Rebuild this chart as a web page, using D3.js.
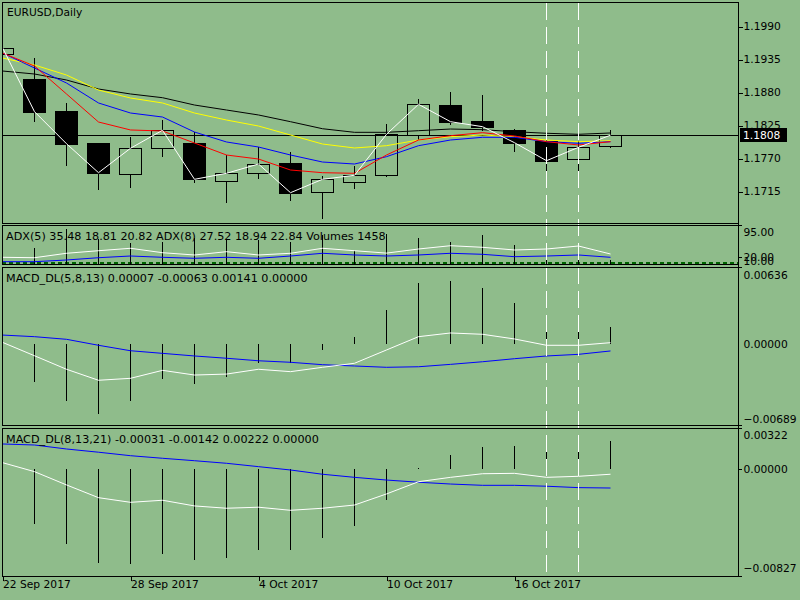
<!DOCTYPE html>
<html><head><meta charset="utf-8">
<script src="https://cdn.jsdelivr.net/npm/d3@7/dist/d3.min.js"></script>
<style>
html,body{margin:0;padding:0;background:#8FBC8B;}
svg{display:block;}
text{font-family:"DejaVu Sans",sans-serif;font-size:10.7px;fill:#000;}
text.ind{font-size:11.2px;}
</style></head>
<body>
<svg id="c" width="800" height="600"></svg>
<script>
// ---------- data ----------
const symbolTitle = "EURUSD,Daily";
const dates = ["22 Sep 2017","25 Sep 2017","26 Sep 2017","27 Sep 2017","28 Sep 2017","29 Sep 2017","2 Oct 2017","3 Oct 2017","4 Oct 2017","5 Oct 2017","6 Oct 2017","9 Oct 2017","10 Oct 2017","11 Oct 2017","12 Oct 2017","13 Oct 2017","16 Oct 2017","17 Oct 2017","18 Oct 2017","19 Oct 2017"];
const dateTicks = ["22 Sep 2017","28 Sep 2017","4 Oct 2017","10 Oct 2017","16 Oct 2017"];
const openP  = [1.19428,1.19017,1.18483,1.17945,1.17438,1.17862,1.17945,1.17322,1.17445,1.17617,1.17128,1.17295,1.17412,1.18083,1.18578,1.18317,1.18162,1.17988,1.17678,1.17895];
const highP  = [1.19550,1.19362,1.18612,1.17950,1.18050,1.18333,1.18138,1.17745,1.17883,1.17795,1.17400,1.17572,1.18262,1.18683,1.18800,1.18745,1.18183,1.18000,1.17983,1.18167];
const lowP   = [1.19420,1.18305,1.17572,1.17167,1.17205,1.17722,1.17288,1.16955,1.17355,1.16988,1.16688,1.17188,1.17388,1.18000,1.18255,1.18150,1.17805,1.17362,1.17288,1.17872];
const closeP = [1.19538,1.18472,1.17938,1.17455,1.17862,1.18162,1.17345,1.17445,1.17600,1.17122,1.17345,1.17412,1.18095,1.18595,1.18305,1.18222,1.17955,1.17655,1.17878,1.18080];
const maRed    = [1.19450,1.19233,1.18767,1.18300,1.18167,1.18150,1.17950,1.17750,1.17683,1.17500,1.17455,1.17445,1.17750,1.18000,1.18072,1.18122,1.18067,1.17972,1.17917,1.17972];
const maBlue   = [1.19450,1.19200,1.18950,1.18617,1.18450,1.18383,1.18133,1.17967,1.17883,1.17750,1.17633,1.17600,1.17722,1.17905,1.18000,1.18045,1.18045,1.17972,1.17945,1.17972];
const maYellow = [1.19367,1.19250,1.19083,1.18833,1.18700,1.18617,1.18450,1.18333,1.18233,1.18083,1.17933,1.17867,1.17905,1.18000,1.18055,1.18083,1.18055,1.18000,1.17972,1.17988];
const maBlack  = [1.19150,1.19100,1.19000,1.18850,1.18767,1.18705,1.18583,1.18500,1.18417,1.18305,1.18188,1.18128,1.18128,1.18155,1.18183,1.18172,1.18138,1.18112,1.18095,1.18117];
const priceTicks = [1.1990,1.1935,1.1880,1.1825,1.1770,1.1715];
const lastPrice = 1.1808;

const adxLabel = "ADX(5) 35.48 18.81 20.82 ADX(8) 27.52 18.94 22.84 Volumes 1458";
const adxWhite = [19.7,18.5,31.5,39.1,46.2,33.2,26.5,36.2,26.5,31.5,46.2,39.1,32.0,44.1,53.8,49.1,41.2,44.1,52.9,29.4];
const adxBlue  = [6.8,6.8,11.8,18.5,23.5,19.7,16.8,19.7,16.8,23.5,31.5,26.5,23.5,26.5,31.5,28.5,21.5,23.5,26.5,19.7];
const volumes  = [9000,5830,12650,9110,7550,8130,9370,8750,8750,8130,10570,4740,10940,9480,8020,10570,6930,7290,7660,1458];
const adxTickLabels = [95,20,10];
const adxLevels = [7,2];

const macd1Label = "MACD_DL(5,8,13) 0.00007 -0.00063 0.00141 0.00000";
const macd1Hist  = [-0.00200,-0.00343,-0.00518,-0.00637,-0.00518,-0.00316,-0.00362,-0.00297,-0.00169,-0.00169,-0.00052,0.00067,0.00315,0.00560,0.00581,0.00514,0.00376,0.00205,0.00159,0.00159];
const macd1White = [0.00018,-0.00105,-0.00229,-0.00330,-0.00312,-0.00239,-0.00282,-0.00273,-0.00229,-0.00251,-0.00211,-0.00174,-0.00052,0.00070,0.00104,0.00092,0.00049,-0.00009,-0.00009,0.00015];
const macd1Blue  = [0.00085,0.00070,0.00046,-0.00009,-0.00059,-0.00083,-0.00107,-0.00128,-0.00151,-0.00165,-0.00187,-0.00199,-0.00211,-0.00206,-0.00184,-0.00160,-0.00132,-0.00107,-0.00092,-0.00061];
const macd1Ticks = [0.00636,0.00000,-0.00689];

const macd2Label = "MACD_DL(8,13,21) -0.00031 -0.00142 0.00222 0.00000";
const macd2Hist  = [-0.00300,-0.00425,-0.00581,-0.00728,-0.00736,-0.00658,-0.00705,-0.00689,-0.00623,-0.00623,-0.00534,-0.00436,-0.00234,0.00008,0.00113,0.00175,0.00182,0.00151,0.00175,0.00221];
const macd2White = [0.00053,-0.00017,-0.00120,-0.00219,-0.00255,-0.00239,-0.00283,-0.00301,-0.00293,-0.00317,-0.00301,-0.00276,-0.00190,-0.00095,-0.00061,-0.00033,-0.00030,-0.00061,-0.00053,-0.00037];
const macd2Blue  = [0.00198,0.00190,0.00159,0.00134,0.00107,0.00087,0.00068,0.00048,0.00022,-0.00004,-0.00037,-0.00061,-0.00082,-0.00099,-0.00113,-0.00123,-0.00123,-0.00130,-0.00141,-0.00144];
const macd2Ticks = [0.00322,0.00000,-0.00827];

const markedDates = ["17 Oct 2017","18 Oct 2017"];

// ---------- layout ----------
const L = 2, R = 738;
const panels = {
  main: [2, 223],
  adx: [225, 264],
  m1: [267, 425],
  m2: [428, 576]
};
const svg = d3.select("#c");

const x = d3.scalePoint().domain(dates).range([2, 610]);
const xi = i => x(dates[i]);
const px = v => Math.round(v) + 0.5;

const yP = d3.scaleLinear().domain([1.1715, 1.1990]).range([191, 26]);
const yAdx = d3.scaleLinear().domain([0, 95]).range([264, 231.7]);
const yVol = d3.scaleLinear().domain([0, 14000]).range([264, 225.6]);
const yM1 = d3.scaleLinear().domain([-0.00689, 0.00636]).range([419.4, 275]);
const yM2 = d3.scaleLinear().domain([-0.00827, 0.00322]).range([576, 428]);

// clip paths per panel
const defs = svg.append("defs");
Object.entries(panels).forEach(([k, [t, b]]) => {
  defs.append("clipPath").attr("id", "clip-" + k)
    .append("rect").attr("x", L + 1).attr("y", t + 1).attr("width", R - L - 1).attr("height", b - t - 1);
});

// ---------- main panel ----------
const gMain = svg.append("g").attr("clip-path", "url(#clip-main)");
gMain.append("line").attr("x1", L).attr("x2", R).attr("y1", px(yP(lastPrice))).attr("y2", px(yP(lastPrice)))
  .attr("stroke", "#000").attr("stroke-width", 1).attr("shape-rendering", "crispEdges");

const candles = dates.map((d, i) => ({d, i, o: openP[i], h: highP[i], l: lowP[i], c: closeP[i]}));
const cg = gMain.append("g").attr("shape-rendering", "crispEdges");
candles.forEach(k => {
  const cx = px(xi(k.i));
  const top = Math.max(k.o, k.c), bot = Math.min(k.o, k.c);
  const yt = Math.round(yP(top)), yb = Math.round(yP(bot));
  cg.append("line").attr("x1", cx).attr("x2", cx).attr("y1", yP(k.h)).attr("y2", yt).attr("stroke", "#000");
  cg.append("line").attr("x1", cx).attr("x2", cx).attr("y1", yb).attr("y2", yP(k.l)).attr("stroke", "#000");
  cg.append("rect").attr("x", Math.round(xi(k.i)) - 11 + 0.5).attr("y", yt + 0.5)
    .attr("width", 22).attr("height", Math.max(1, yb - yt))
    .attr("fill", k.c < k.o ? "#000" : "none").attr("stroke", "#000");
});

const lineP = d3.line().x((d, i) => xi(i) + 0.5).y(d => yP(d));
[[maBlack, "#000"], [maYellow, "#FFFF00"], [maBlue, "#0000FF"], [maRed, "#FF0000"], [closeP, "#FFFFFF"]].forEach(([arr, col]) => {
  gMain.append("path").datum(arr).attr("d", lineP).attr("fill", "none").attr("stroke", col).attr("stroke-width", 1);
});

svg.append("text").attr("x", 7).attr("y", 16).text(symbolTitle);

// ---------- ADX panel ----------
const gAdx = svg.append("g").attr("clip-path", "url(#clip-adx)");
adxLevels.forEach(v => {
  gAdx.append("line").attr("x1", L).attr("x2", R).attr("y1", px(yAdx(v))).attr("y2", px(yAdx(v)))
    .attr("stroke", "#006400").attr("stroke-dasharray", "4,3").attr("shape-rendering", "crispEdges");
});
volumes.forEach((v, i) => {
  gAdx.append("line").attr("x1", px(xi(i))).attr("x2", px(xi(i))).attr("y1", yVol(0)).attr("y2", yVol(v))
    .attr("stroke", "#000").attr("shape-rendering", "crispEdges");
});
const lineAdx = d3.line().x((d, i) => xi(i) + 0.5).y(d => yAdx(d));
gAdx.append("path").datum(adxWhite).attr("d", lineAdx).attr("fill", "none").attr("stroke", "#fff");
gAdx.append("path").datum(adxBlue).attr("d", lineAdx).attr("fill", "none").attr("stroke", "#0000FF");
svg.append("text").attr("class", "ind").attr("x", 6).attr("y", 240).text(adxLabel);

// ---------- MACD panels ----------
function macdPanel(key, yS, hist, white, blue, label, labelY) {
  const g = svg.append("g").attr("clip-path", "url(#clip-" + key + ")");
  hist.forEach((v, i) => {
    g.append("line").attr("x1", px(xi(i))).attr("x2", px(xi(i))).attr("y1", yS(0)).attr("y2", yS(v))
      .attr("stroke", "#000").attr("shape-rendering", "crispEdges");
  });
  const ln = d3.line().x((d, i) => xi(i) + 0.5).y(d => yS(d));
  g.append("path").datum(blue).attr("d", ln).attr("fill", "none").attr("stroke", "#0000FF");
  g.append("path").datum(white).attr("d", ln).attr("fill", "none").attr("stroke", "#fff");
  svg.append("text").attr("class", "ind").attr("x", 6).attr("y", labelY).text(label);
}
macdPanel("m1", yM1, macd1Hist, macd1White, macd1Blue, macd1Label, 282);
macdPanel("m2", yM2, macd2Hist, macd2White, macd2Blue, macd2Label, 443);

// ---------- vertical dashed markers ----------
markedDates.forEach(d => {
  svg.append("line").attr("x1", px(x(d))).attr("x2", px(x(d))).attr("y1", 3).attr("y2", 576)
    .attr("stroke", "#fff").attr("stroke-width", 1.3).attr("stroke-dasharray", "17,7")
    .attr("shape-rendering", "crispEdges");
});

// ---------- panel frames ----------
Object.values(panels).forEach(([t, b]) => {
  svg.append("rect").attr("x", L + 0.5).attr("y", t + 0.5).attr("width", R - L).attr("height", b - t)
    .attr("fill", "none").attr("stroke", "#000").attr("shape-rendering", "crispEdges");
});

// ---------- right axes ----------
function styleAxis(g) {
  g.select(".domain").remove();
  g.selectAll("text").style("font-family", '"DejaVu Sans",sans-serif').style("font-size", "10.7px").attr("fill", "#000");
  g.selectAll("line").attr("stroke", "#000").attr("shape-rendering", "crispEdges");
}
const axP = svg.append("g").attr("transform", `translate(${R + 0.5},0.5)`)
  .call(d3.axisRight(yP).tickValues(priceTicks).tickSize(4).tickPadding(1).tickFormat(d3.format(".4f")));
styleAxis(axP);

// last price box
const lpY = yP(lastPrice);
svg.append("rect").attr("x", 740).attr("y", Math.round(lpY) - 7).attr("width", 47).attr("height", 14).attr("fill", "#000");
svg.append("text").attr("x", 743).attr("y", lpY).attr("dy", "0.35em").style("fill", "#fff").text(d3.format(".4f")(lastPrice));

// ADX axis labels
const axA = svg.append("g").attr("transform", `translate(${R + 0.5},0)`)
  .call(d3.axisRight(yAdx).tickValues(adxTickLabels).tickSize(0).tickPadding(5).tickFormat(d3.format(".2f")));
styleAxis(axA);
// MACD axis labels
const axM1 = svg.append("g").attr("transform", `translate(${R + 0.5},0)`)
  .call(d3.axisRight(yM1).tickValues(macd1Ticks).tickSize(0).tickPadding(5).tickFormat(d3.format(".5f")));
styleAxis(axM1);
const axM2 = svg.append("g").attr("transform", `translate(${R + 0.5},0)`)
  .call(d3.axisRight(yM2).tickValues(macd2Ticks).tickSize(0).tickPadding(5).tickFormat(d3.format(".5f")));
styleAxis(axM2);
axM2.selectAll(".tick").attr("transform", d => {
  const off = d === macd2Ticks[0] ? 8 : d === macd2Ticks[2] ? -7 : 0;
  return `translate(0,${yM2(d) + off})`;
});
[panels.adx[0], panels.m1[0], panels.m1[1], panels.m2[0], panels.m2[1], yAdx(20), yM2(0)].forEach(yv => {
  svg.append("line").attr("x1", R).attr("x2", R + 4).attr("y1", px(yv)).attr("y2", px(yv))
    .attr("stroke", "#000").attr("shape-rendering", "crispEdges");
});
svg.append("line").attr("x1", R + 0.5).attr("x2", R + 0.5).attr("y1", 2).attr("y2", 577)
  .attr("stroke", "#000").attr("shape-rendering", "crispEdges");

// ---------- x axis ----------
const axX = svg.append("g").attr("transform", `translate(0.5,${panels.m2[1] + 0.5})`)
  .call(d3.axisBottom(x).tickValues(dateTicks).tickSize(4).tickPadding(4));
styleAxis(axX);
axX.selectAll("text").attr("text-anchor", "start").attr("x", 0).attr("dy", "0.71em").attr("y", 4);
</script>
</body></html>
